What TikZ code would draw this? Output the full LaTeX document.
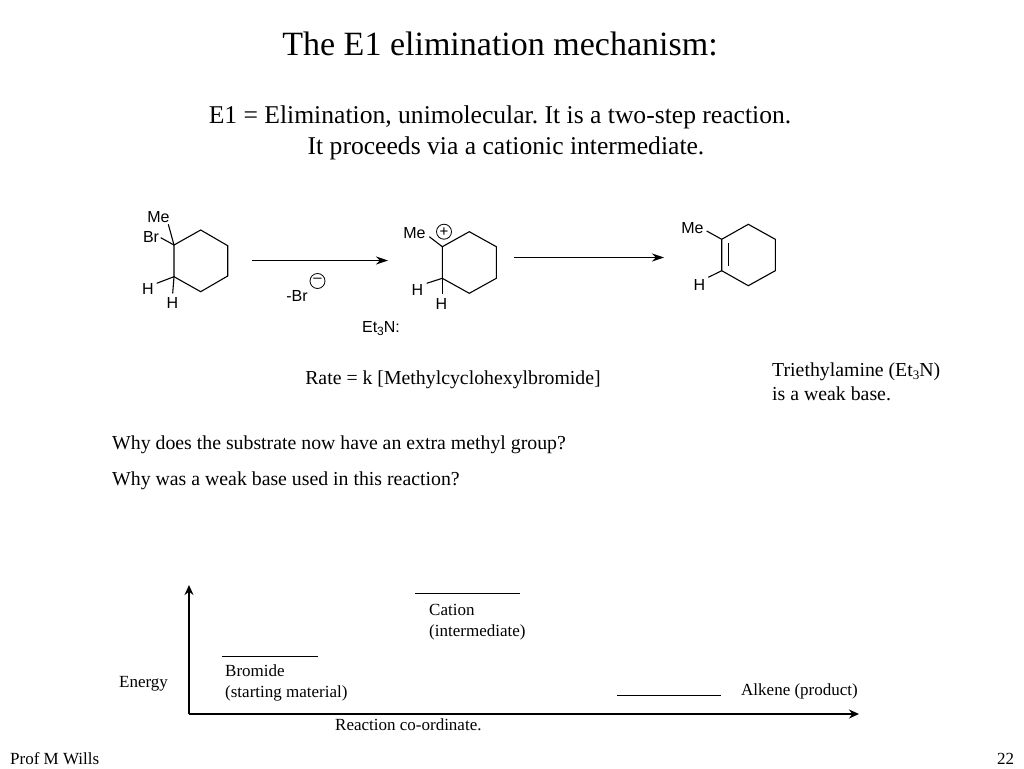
\documentclass[tikz,border=0pt]{standalone}
\usepackage{fontspec}
\setmainfont{Liberation Serif}
\setsansfont{Liberation Sans}
\usetikzlibrary{arrows.meta}
\tikzset{>=stealth}
\newcommand{\subnum}[1]{\raisebox{-3pt}{\fontsize{#1}{#1}\selectfont 3}}
\tikzset{
	titletext/.style={inner sep=0pt,anchor=base,font=\fontsize{34}{38}\selectfont},
	leadtext/.style={inner sep=0pt,anchor=base,font=\fontsize{25.6}{28}\selectfont},
	bodytext/.style={inner sep=0pt,anchor=base west,font=\fontsize{19.8}{22}\selectfont},
	axistext/.style={inner sep=0pt,anchor=base west,font=\fontsize{17}{20}\selectfont},
	atomtext/.style={inner sep=0pt,anchor=base,font=\sffamily\fontsize{16}{18}\selectfont},
	bondline/.style={line width=1.1pt},
	reactionarrow/.style={line width=1.4pt,-{Stealth[length=12pt,width=8pt]}},
	axisline/.style={line width=1.6pt,-{Stealth[length=10pt,width=9pt]}},
	levelline/.style={line width=1.2pt},
	chargemark/.style={draw,circle,line width=.8pt,minimum size=15pt,inner sep=0pt,font=\sffamily\fontsize{15}{15}\selectfont}
}
\begin{document}
\frenchspacing
\begin{tikzpicture}[x=1pt,y=-1pt]
	\useasboundingbox[fill=white] (0,0) rectangle (1024,768);
	\node[titletext] (title) at (500,56) {The E1 elimination mechanism:};
	\node[leadtext] (leadone) at (500,123) {E1 = Elimination, unimolecular. It is a two-step reaction.};
	\node[leadtext] (leadtwo) at (506,154) {It proceeds via a cationic intermediate.};

	\coordinate (a1) at (174,245);
	\coordinate (a2) at (200.7,230);
	\coordinate (a3) at (227.7,245.7);
	\coordinate (a4) at (227.7,276);
	\coordinate (a5) at (200.7,291.7);
	\coordinate (a6) at (174,276.7);
	\draw[bondline] (a1) -- (a2) -- (a3) -- (a4) -- (a5) -- (a6) -- cycle;
	\node[atomtext] (ame) at (158.5,222) {Me};
	\node[atomtext] (abr) at (151,242.5) {Br};
	\node[atomtext] (ahone) at (148,294) {H};
	\node[atomtext] (ahtwo) at (172.5,308.5) {H};
	\draw[bondline] (a1) -- (168.3,224.3);
	\draw[bondline] (a1) -- (160.7,237.7);
	\draw[bondline] (a6) -- (156.7,283.3);
	\draw[bondline] (a6) -- (172.7,293.3);

	\coordinate (b1) at (442.3,246.7);
	\coordinate (b2) at (469.3,231.7);
	\coordinate (b3) at (496.3,246.7);
	\coordinate (b4) at (496.3,278.3);
	\coordinate (b5) at (469.3,293.3);
	\coordinate (b6) at (442.3,278.3);
	\draw[bondline] (b1) -- (b2) -- (b3) -- (b4) -- (b5) -- (b6) -- cycle;
	\node[atomtext] (bme) at (414.5,238) {Me};
	\node[chargemark] (bplus) at (444,231.7) {+};
	\node[atomtext] (bhone) at (417.5,295) {H};
	\node[atomtext] (bhtwo) at (441.5,309.5) {H};
	\draw[bondline] (b1) -- (429.3,236.7);
	\draw[bondline] (b6) -- (426.7,283.3);
	\draw[bondline] (b6) -- (442.3,294);

	\coordinate (c1) at (721.7,239.3);
	\coordinate (c2) at (748.3,224.3);
	\coordinate (c3) at (775.3,239.3);
	\coordinate (c4) at (775.3,270.7);
	\coordinate (c5) at (748.3,285.7);
	\coordinate (c6) at (721.7,270.7);
	\draw[bondline] (c1) -- (c2) -- (c3) -- (c4) -- (c5) -- (c6) -- cycle;
	\coordinate (cin1) at (728.3,243.3);
	\coordinate (cin2) at (728.3,266);
	\draw[bondline] (cin1) -- (cin2);
	\node[atomtext] (cme) at (692.5,233.5) {Me};
	\node[atomtext] (ch) at (699.5,290) {H};
	\draw[bondline] (c1) -- (706.7,231);
	\draw[bondline] (c6) -- (708.3,277.3);

	\coordinate (arrowastart) at (252,260.5);
	\coordinate (arrowaend) at (388,260.5);
	\draw[reactionarrow] (arrowastart) -- (arrowaend);
	\coordinate (arrowbstart) at (514,257.5);
	\coordinate (arrowbend) at (664,257.5);
	\draw[reactionarrow] (arrowbstart) -- (arrowbend);
	\node[atomtext] (brion) at (297,301) {-Br};
	\node[chargemark] (brminus) at (317.5,281) {\raisebox{1pt}{--}};
	\node[atomtext] (base) at (381,332) {Et\subnum{12}N:};

	\node[bodytext,anchor=base] (rate) at (453,384) {Rate = k [Methylcyclohexylbromide]};
	\node[bodytext] (noteone) at (772,376) {Triethylamine (Et\subnum{13}N)};
	\node[bodytext] (notetwo) at (772,400) {is a weak base.};
	\node[bodytext] (whyone) at (112,449) {Why does the substrate now have an extra methyl group?};
	\node[bodytext] (whytwo) at (112,485) {Why was a weak base used in this reaction?};

	\coordinate (origin) at (189,714);
	\coordinate (energytop) at (189,585);
	\coordinate (coordend) at (859,714);
	\draw[axisline] (origin) -- (energytop);
	\draw[axisline] (origin) -- (coordend);
	\coordinate (catl) at (415,593.5);
	\coordinate (catr) at (520,593.5);
	\draw[levelline] (catl) -- (catr);
	\coordinate (brl) at (222,656.5);
	\coordinate (brr) at (318,656.5);
	\draw[levelline] (brl) -- (brr);
	\coordinate (alkl) at (617,695.5);
	\coordinate (alkr) at (721,695.5);
	\draw[levelline] (alkl) -- (alkr);
	\node[axistext] (cation) at (429,615) {Cation};
	\node[axistext] (cationb) at (429,636) {(intermediate)};
	\node[axistext] (bromide) at (225,676) {Bromide};
	\node[axistext] (bromideb) at (225,697) {(starting material)};
	\node[axistext] (alkene) at (741,695) {Alkene (product)};
	\node[axistext] (energy) at (119,687) {Energy};
	\node[axistext] (xlabel) at (335,730) {Reaction co-ordinate.};
	\node[axistext] (prof) at (10,764) {Prof M Wills};
	\node[axistext] (page) at (997,764) {22};
\end{tikzpicture}
\end{document}
